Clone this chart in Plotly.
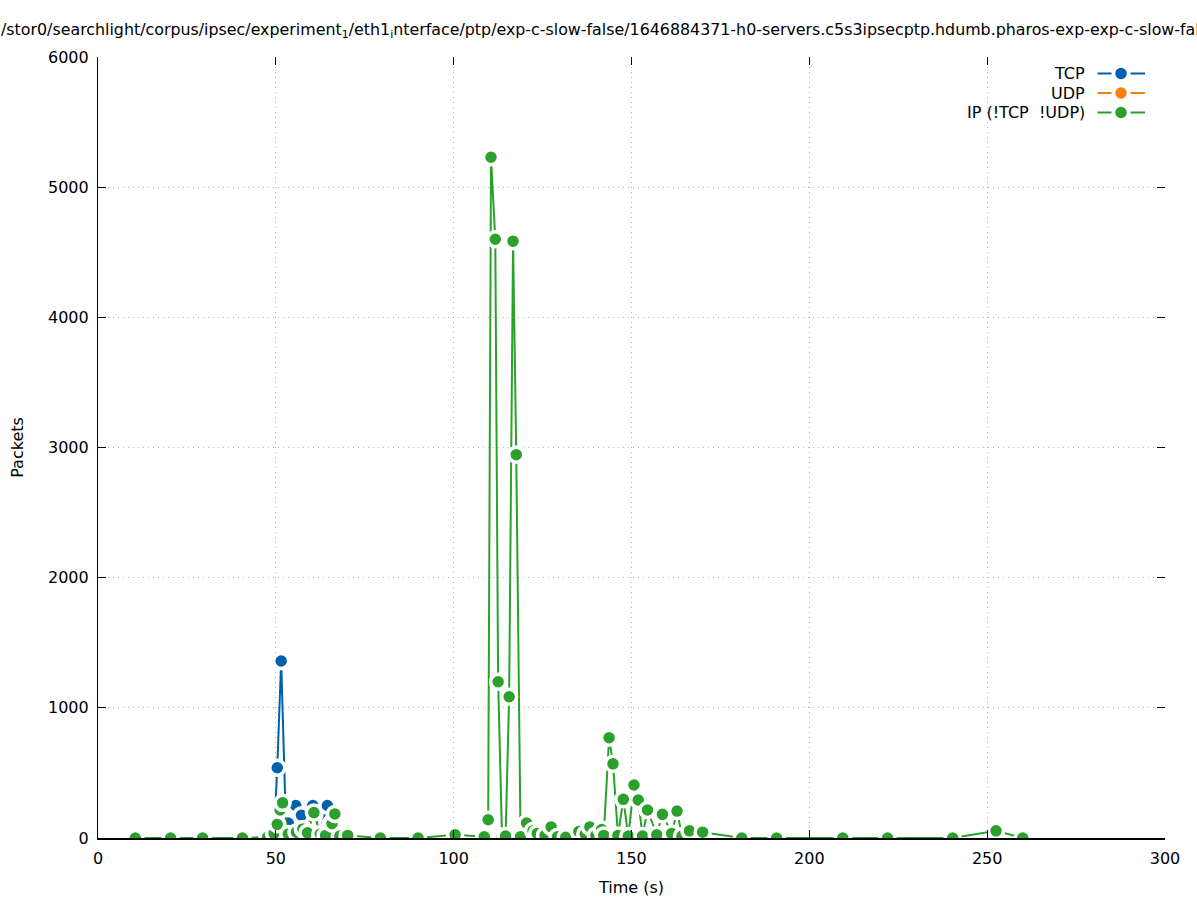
import plotly.graph_objects as go

# ---------------- data ----------------
tcp_t = [47.8, 49.5, 50.4, 51.5, 52.7, 53.5, 55.6, 57.2, 58.8, 60.4, 62.3, 64.5, 65.4, 66.9, 70.2]
tcp_v = [0, 25, 540, 1360, 230, 115, 250, 175, 60, 250, 40, 250, 110, 25, 0]

udp_t = []
udp_v = []

ip_t = [10.5, 20.4, 29.4, 40.6, 47.7, 49.5, 50.4, 51.2, 51.9, 53.5, 55.8, 57.6, 58.9, 60.7,
        62.5, 64.0, 65.8, 66.6, 68.0, 70.2, 79.4, 90.0, 100.4, 108.6, 109.7, 110.5, 111.7,
        112.5, 113.6, 114.6, 115.6, 116.7, 117.6, 118.8, 120.5, 122.3, 123.5, 125.7, 127.4,
        129.2, 131.5, 135.2, 137.0, 138.3, 140.0, 141.6, 142.2, 143.7, 144.8, 146.2, 147.7,
        149.1, 150.7, 151.9, 153.1, 154.5, 157.1, 158.7, 161.3, 162.8, 164.2, 166.3, 170.0,
        181.0, 190.8, 209.4, 222.0, 240.3, 252.5, 260.0]
ip_v = [0, 0, 0, 0, 8, 35, 105, 215, 270, 30, 45, 70, 40, 195,
        30, 20, 110, 185, 15, 20, 0, 0, 25, 10, 140, 5230, 4600,
        1200, 10, 15, 1085, 4585, 2945, 10, 115, 55, 35, 20, 85,
        10, 5, 50, 30, 85, 20, 65, 20, 770, 570, 20, 297,
        15, 407, 292, 15, 215, 25, 182, 35, 207, 15, 55, 45,
        0, 0, 0, 0, 0, 55, 0]

x_ticks = [0, 50, 100, 150, 200, 250, 300]
y_ticks = [0, 1000, 2000, 3000, 4000, 5000, 6000]

series_names = ["TCP", "UDP", "IP (!TCP  !UDP)"]
series_colors = ["#0060ad", "#ff7f0e", "#2ca02c"]

# visible part of the (over-long, clipped) gnuplot title
title_text = ("/stor0/searchlight/corpus/ipsec/experiment<sub>1</sub>/eth1<sub>i</sub>nterface/ptp/"
              "exp-c-slow-false/1646884371-h0-servers.c5s3ipsecptp.hdumb.pharos-exp-exp-c-slow-false")

FONT = "DejaVu Sans"
FS = 16

fig = go.Figure()
for (tx, vy), name, col in zip([(tcp_t, tcp_v), (udp_t, udp_v), (ip_t, ip_v)], series_names, series_colors):
    fig.add_trace(go.Scatter(
        x=tx, y=vy, mode="lines+markers", name=name,
        line=dict(color=col, width=2),
        marker=dict(color=col, size=15, line=dict(color="white", width=3.5)),
        showlegend=False, cliponaxis=True,
    ))

# helper trace for mirrored ticks (top / right)
fig.add_trace(go.Scatter(x=[], y=[], xaxis="x2", yaxis="y2", showlegend=False, hoverinfo="skip"))

# ---------------- pixel helpers (plot area 97.5..1165 x 57..838) ----------------
x0 = 97.5
W = 1165 - 97.5
H = 838 - 57
def px(xp):
    return (xp - x0) / W
def py(yp):
    return (838 - yp) / H

# title (clipped at both sides like the reference)
fig.add_annotation(x=px(-1.5), y=py(30), xref="paper", yref="paper", text=title_text,
                   showarrow=False, xanchor="left", yanchor="middle",
                   font=dict(family=FONT, size=15.85, color="black"))

# ---------------- manual gnuplot-style key ----------------
rows = [73.5, 93.0, 112.5]
for name, col, ry in zip(series_names, series_colors, rows):
    fig.add_annotation(x=px(1087), y=py(ry), xref="paper", yref="paper", text=name,
                       showarrow=False, xanchor="right", yanchor="middle",
                       font=dict(family=FONT, size=FS, color="black"))
    for a, b in [(1097.5, 1111.5), (1130.5, 1145)]:
        fig.add_shape(type="line", xref="paper", yref="paper", x0=px(a), x1=px(b), y0=py(ry), y1=py(ry),
                      line=dict(color=col, width=2))
    fig.add_shape(type="circle", xref="paper", yref="paper", xsizemode="pixel", ysizemode="pixel",
                  xanchor=px(1121), yanchor=py(ry), x0=-5.75, x1=5.75, y0=-5.75, y1=5.75,
                  fillcolor=col, line=dict(color=col, width=0))

axis_common = dict(
    ticks="inside", ticklen=8, tickwidth=1, tickcolor="black",
    showgrid=True, gridcolor="#b4b4b4", griddash="1px,4px", gridwidth=1,
    zeroline=False, tickfont=dict(family=FONT, size=FS, color="black"),
    ticklabelstandoff=5,
)

fig.update_layout(
    width=1197, height=900,
    paper_bgcolor="white", plot_bgcolor="white",
    margin=dict(l=97.5, r=32, t=57, b=62, autoexpand=False),
    xaxis=dict(range=[0, 300], tickvals=x_ticks, ticktext=[str(v) for v in x_ticks],
               showline=True, linecolor="black", linewidth=1.5, mirror=False,
               title=dict(text="Time (s)", font=dict(family=FONT, size=FS, color="black"), standoff=15),
               **axis_common),
    yaxis=dict(range=[0, 6000], tickvals=y_ticks, ticktext=[str(v) for v in y_ticks],
               showline=True, linecolor="black", linewidth=1.2, mirror=False,
               title=dict(text="Packets", font=dict(family=FONT, size=FS, color="black"), standoff=20),
               **axis_common),
    xaxis2=dict(range=[0, 300], tickvals=x_ticks, overlaying="x", side="top", ticks="inside",
                ticklen=8, tickcolor="black", showticklabels=False, showgrid=False, zeroline=False,
                showline=False),
    yaxis2=dict(range=[0, 6000], tickvals=y_ticks, overlaying="y", side="right", ticks="inside",
                ticklen=8, tickcolor="black", showticklabels=False, showgrid=False, zeroline=False,
                showline=False),
)

fig.write_html("out.html", config={"displayModeBar": False},
               post_script="document.body.style.margin='0px';")
